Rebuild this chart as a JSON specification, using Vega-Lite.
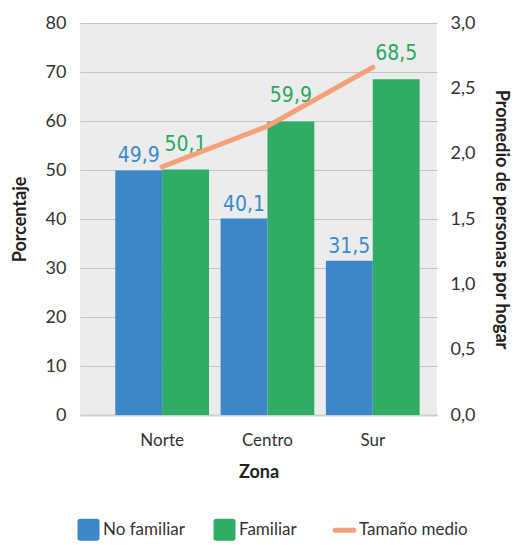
{
  "$schema": "https://vega.github.io/schema/vega-lite/v6.json",
  "autosize": "none",
  "padding": {"left": 80, "top": 23, "right": 79, "bottom": 130},
  "width": 357,
  "height": 392,
  "config": {
    "locale": {"number": {"decimal": ",", "thousands": ".", "grouping": [3], "currency": ["", " €"]}},
    "font": "Lato",
    "view": {"fill": "#ececec", "stroke": null},
    "axis": {"labelFont": "Lato", "titleFont": "Lato", "labelColor": "#333333", "titleColor": "#222222", "ticks": false, "domain": false, "labelFontSize": 18, "titleFontSize": 18, "titleFontWeight": "bold", "gridColor": "#c4c4c4", "gridWidth": 1}
  },
  "layer": [
    {
      "data": {"values": [
        {"zona": "Norte", "tipo": "No familiar", "valor": 49.9},
        {"zona": "Norte", "tipo": "Familiar", "valor": 50.1},
        {"zona": "Centro", "tipo": "No familiar", "valor": 40.1},
        {"zona": "Centro", "tipo": "Familiar", "valor": 59.9},
        {"zona": "Sur", "tipo": "No familiar", "valor": 31.5},
        {"zona": "Sur", "tipo": "Familiar", "valor": 68.5}
      ]},
      "encoding": {
        "x": {"field": "zona", "type": "nominal", "sort": ["Norte", "Centro", "Sur"], "scale": {"paddingInner": 0.11, "paddingOuter": 0.25, "align": 0.67},
          "axis": {"title": "Zona", "labelAngle": 0, "labelPadding": 17, "labelFontSize": 17, "titlePadding": 15, "titleFontSize": 18, "domain": true, "domainColor": "#cfcfcf", "domainWidth": 2}},
        "xOffset": {"field": "tipo", "type": "nominal", "sort": ["No familiar", "Familiar"], "scale": {"paddingInner": 0, "paddingOuter": 0}},
        "y": {"field": "valor", "type": "quantitative", "scale": {"domain": [0, 80]},
          "axis": {"title": "Porcentaje", "values": [0, 10, 20, 30, 40, 50, 60, 70, 80], "labelPadding": 14, "titlePadding": 16}}
      },
      "layer": [
        {
          "mark": {"type": "bar"},
          "encoding": {
            "color": {"field": "tipo", "type": "nominal", "sort": ["No familiar", "Familiar", "Tamaño medio"],
              "scale": {"domain": ["No familiar", "Familiar", "Tamaño medio"], "range": ["#3b87c8", "#2fad66", "#f5a078"]},
              "legend": {"title": null, "orient": "bottom", "direction": "horizontal", "offset": 40, "labelFont": "Lato", "labelFontSize": 17, "labelColor": "#333333", "symbolSize": 484, "labelOffset": 6, "columnPadding": 28, "symbolStrokeWidth": 0,
                "encode": {"symbols": {"update": {
                  "shape": {"signal": "datum.value === 'Tamaño medio' ? 'M-0.85,0H0.85' : 'M-0.75,-1H0.75Q1,-1 1,-0.75V0.75Q1,1 0.75,1H-0.75Q-1,1 -1,0.75V-0.75Q-1,-1 -0.75,-1Z'"},
                  "stroke": {"signal": "scale('color', datum.value)"},
                  "strokeWidth": {"signal": "datum.value === 'Tamaño medio' ? 5 : 0"},
                  "strokeCap": {"value": "round"},
                  "fill": {"signal": "datum.value === 'Tamaño medio' ? 'transparent' : scale('color', datum.value)"}
                }}}}
            }
          }
        },
        {
          "transform": [{"filter": "datum.tipo === 'No familiar'"}],
          "mark": {"type": "text", "font": "Liberation Sans Narrow, DejaVu Sans Condensed, Roboto Condensed, Roboto, sans-serif", "fontSize": 21, "baseline": "alphabetic", "dy": -8, "color": "#3b8ad0"},
          "encoding": {"text": {"field": "valor", "type": "quantitative", "format": ".1f"}}
        },
        {
          "transform": [{"filter": "datum.tipo === 'Familiar'"}],
          "mark": {"type": "text", "font": "Liberation Sans Narrow, DejaVu Sans Condensed, Roboto Condensed, Roboto, sans-serif", "fontSize": 21, "baseline": "alphabetic", "dy": -19, "color": "#2aa862"},
          "encoding": {"text": {"field": "valor", "type": "quantitative", "format": ".1f"}}
        }
      ]
    },
    {
      "data": {"values": [
        {"zona": "Norte", "serie": "Tamaño medio", "tamano": 1.9},
        {"zona": "Centro", "serie": "Tamaño medio", "tamano": 2.21},
        {"zona": "Sur", "serie": "Tamaño medio", "tamano": 2.66}
      ]},
      "mark": {"type": "line", "strokeWidth": 5, "strokeCap": "round", "color": "#f5a078"},
      "encoding": {
        "x": {"field": "zona", "type": "nominal", "sort": ["Norte", "Centro", "Sur"]},
        "y": {"field": "tamano", "type": "quantitative", "scale": {"domain": [0, 3]},
          "axis": {"orient": "right", "title": "Promedio de personas por hogar", "values": [0, 0.5, 1, 1.5, 2, 2.5, 3], "format": ".1f", "grid": false, "labelPadding": 13, "titlePadding": 17}}
      }
    }
  ],
  "resolve": {"scale": {"y": "independent"}}
}
